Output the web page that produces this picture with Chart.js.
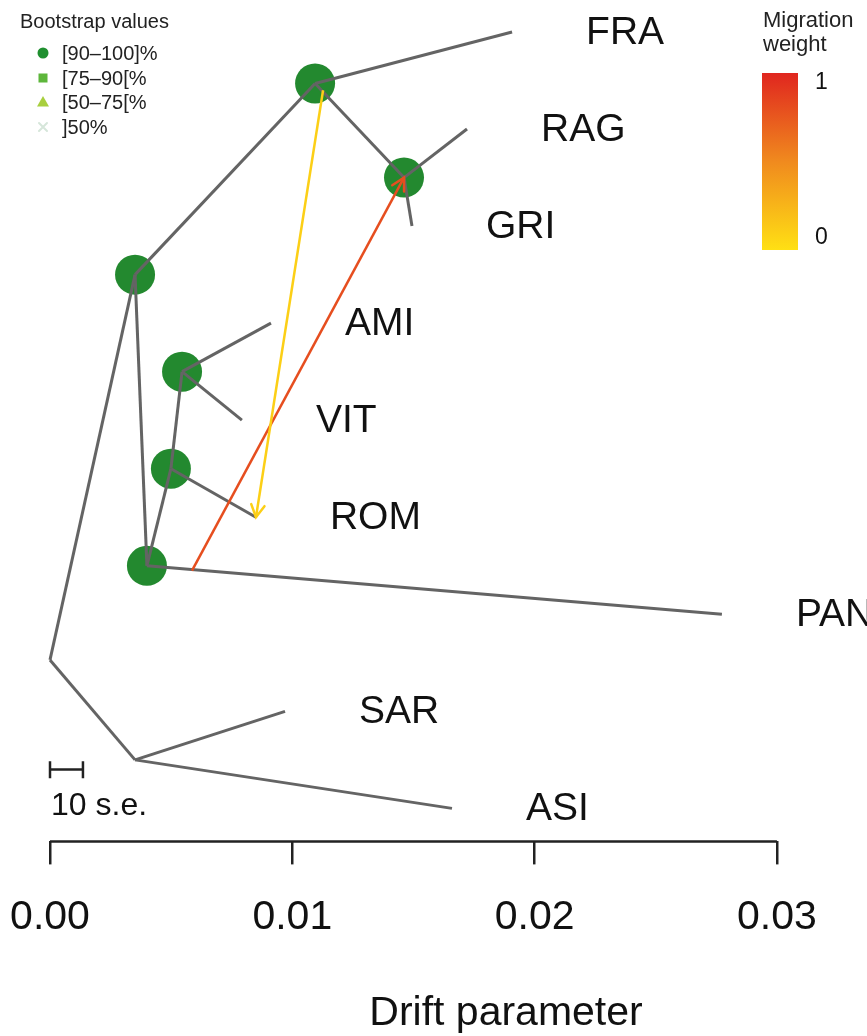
<!DOCTYPE html>
<html>
<head>
<meta charset="utf-8">
<title>Drift tree</title>
<script src="https://cdn.jsdelivr.net/npm/chart.js@4.4.1/dist/chart.umd.min.js"></script>
<style>
  html, body { margin: 0; padding: 0; background: #fff; }
  canvas { display: block; }
</style>
</head>
<body>
<canvas id="tree" width="867" height="1036"></canvas>
<script>
// nodes: drift parameter (x) and vertical row (y, 1 = top tip, 9 = bottom tip)
const nodeNames = ['root', 'SA', 'A', 'N1', 'N2', 'D', 'C', 'B',
                   'FRA', 'RAG', 'GRI', 'AMI', 'VIT', 'ROM', 'PAN', 'SAR', 'ASI'];
const nodeDrift = [0, 0.00351, 0.00351, 0.01094, 0.01461, 0.00400, 0.00499, 0.00545,
                   0.01907, 0.01721, 0.01494, 0.00912, 0.00792, 0.00850, 0.02773, 0.00970, 0.01659];
const nodeRow   = [7.47, 8.5, 3.5, 1.53, 2.5, 6.5, 5.5, 4.5,
                   1, 2, 3, 4, 5, 6, 7, 8, 9];

// tree branches
const edgeFrom = ['root', 'root', 'SA', 'SA', 'A', 'A', 'N1', 'N1', 'N2', 'N2', 'D', 'D', 'C', 'C', 'B', 'B'];
const edgeTo   = ['SA', 'A', 'SAR', 'ASI', 'N1', 'D', 'FRA', 'N2', 'RAG', 'GRI', 'PAN', 'C', 'ROM', 'B', 'AMI', 'VIT'];

const tipLabels = ['FRA', 'RAG', 'GRI', 'AMI', 'VIT', 'ROM', 'PAN', 'SAR', 'ASI'];
const bootstrapNodes = ['N1', 'N2', 'A', 'B', 'C', 'D'];   // all in [90-100]%

// migration edges: start point on a branch -> target node
const migSrcDrift = [0.01127, 0.00586];
const migSrcRow   = [1.60, 6.55];
const migTarget   = ['ROM', 'N2'];
const migWeight   = [0.1, 0.8];

const xTicks = [0, 0.01, 0.02, 0.03];
const scaleBarLen = 0.00136;     // 10 s.e.
const scaleBarRow = 8.6;
const bootLabels = ['[90–100]%', '[75–90[%', '[50–75[%', ']50%'];

const FONT = '"Liberation Sans", Arial, Helvetica, sans-serif';
const PX_PER_UNIT = 24230;
const X_MIN = -50 / PX_PER_UNIT, X_MAX = 817 / PX_PER_UNIT;
const Y_MIN = 1 - 32 / 97, Y_MAX = Y_MIN + 841 / 97;

function pt(name) {
  const i = nodeNames.indexOf(name);
  return { x: nodeDrift[i], y: nodeRow[i] };
}

function weightColor(w) {
  const stops = [[255, 224, 20], [240, 138, 30], [224, 38, 31]];
  const t = Math.max(0, Math.min(1, w)) * 2;
  const i = Math.min(1, Math.floor(t)), f = t - i;
  const c = stops[i].map((v, k) => Math.round(v + (stops[i + 1][k] - v) * f));
  return `rgb(${c[0]},${c[1]},${c[2]})`;
}

const datasets = [];

// bootstrap support circles
datasets.push({
  data: bootstrapNodes.map(pt), pointRadius: 20, pointBackgroundColor: '#23892f',
  pointBorderWidth: 0, showLine: false, order: 3
});

// branches
edgeFrom.forEach((f, i) => {
  datasets.push({
    data: [pt(f), pt(edgeTo[i])], showLine: true, borderColor: '#646464',
    borderWidth: 3, pointRadius: 0, order: 2
  });
});

// migration edges
migTarget.forEach((t, i) => {
  datasets.push({
    data: [{ x: migSrcDrift[i], y: migSrcRow[i] }, pt(t)], showLine: true,
    borderColor: weightColor(migWeight[i]), borderWidth: 2.5, pointRadius: 0, order: 1,
    migration: true
  });
});

// x axis line (0 to 0.03)
datasets.push({
  data: [{ x: xTicks[0], y: Y_MAX }, { x: xTicks[xTicks.length - 1], y: Y_MAX }], showLine: true,
  borderColor: '#222', borderWidth: 2.5, pointRadius: 0, clip: false, order: 1
});

// scale bar with end caps
datasets.push({
  data: [{ x: 0, y: scaleBarRow }, { x: scaleBarLen, y: scaleBarRow }], showLine: true,
  borderColor: '#222', borderWidth: 2.5, pointRadius: 0, order: 1
});
[0, scaleBarLen].forEach(v => {
  datasets.push({
    data: [{ x: v, y: scaleBarRow - 0.085 }, { x: v, y: scaleBarRow + 0.09 }], showLine: true,
    borderColor: '#222', borderWidth: 2.5, pointRadius: 0, order: 1
  });
});

const annotations = {
  id: 'annotations',
  afterDraw(chart) {
    const { ctx, scales: { x, y } } = chart;
    ctx.save();

    // migration arrow heads
    chart.data.datasets.forEach(ds => {
      if (!ds.migration) return;
      const x0 = x.getPixelForValue(ds.data[0].x), y0 = y.getPixelForValue(ds.data[0].y);
      const x1 = x.getPixelForValue(ds.data[1].x), y1 = y.getPixelForValue(ds.data[1].y);
      const a = Math.atan2(y1 - y0, x1 - x0), len = 14, sp = 0.5;
      ctx.strokeStyle = ds.borderColor; ctx.lineWidth = 2.5; ctx.lineCap = 'round';
      ctx.beginPath();
      ctx.moveTo(x1 - len * Math.cos(a - sp), y1 - len * Math.sin(a - sp));
      ctx.lineTo(x1, y1);
      ctx.lineTo(x1 - len * Math.cos(a + sp), y1 - len * Math.sin(a + sp));
      ctx.stroke();
    });

    // tip labels
    ctx.fillStyle = '#111';
    ctx.font = `39px ${FONT}`;
    ctx.textAlign = 'left'; ctx.textBaseline = 'middle';
    tipLabels.forEach(n => {
      const p = pt(n);
      ctx.fillText(n, x.getPixelForValue(p.x) + 74, y.getPixelForValue(p.y) + 1);
    });

    // scale bar label
    ctx.font = `32px ${FONT}`;
    ctx.fillText('10 s.e.', x.getPixelForValue(0) + 1, y.getPixelForValue(scaleBarRow) + 37);

    // axis title
    ctx.font = `41px ${FONT}`;
    ctx.textAlign = 'center'; ctx.textBaseline = 'alphabetic';
    ctx.fillText('Drift parameter', 506, 1025);

    // bootstrap legend
    ctx.textAlign = 'left'; ctx.textBaseline = 'middle';
    ctx.font = `20px ${FONT}`;
    ctx.fillStyle = '#222';
    ctx.fillText('Bootstrap values', 20, 22);
    const mk = 43, rowsY = [53, 78, 102, 127];
    ctx.fillStyle = '#1f8f2f';
    ctx.beginPath(); ctx.arc(mk, rowsY[0], 5.5, 0, Math.PI * 2); ctx.fill();
    ctx.fillStyle = '#5db63b';
    ctx.fillRect(mk - 4.5, rowsY[1] - 4.5, 9, 9);
    ctx.fillStyle = '#a8cf3e';
    ctx.beginPath();
    ctx.moveTo(mk, rowsY[2] - 6); ctx.lineTo(mk + 6, rowsY[2] + 4.5); ctx.lineTo(mk - 6, rowsY[2] + 4.5);
    ctx.closePath(); ctx.fill();
    ctx.strokeStyle = '#d6e6da'; ctx.lineWidth = 2;
    ctx.beginPath();
    ctx.moveTo(mk - 4, rowsY[3] - 4); ctx.lineTo(mk + 4, rowsY[3] + 4);
    ctx.moveTo(mk + 4, rowsY[3] - 4); ctx.lineTo(mk - 4, rowsY[3] + 4);
    ctx.stroke();
    ctx.fillStyle = '#222';
    bootLabels.forEach((t, i) => ctx.fillText(t, 62, rowsY[i] + 1));

    // migration weight colour bar
    ctx.font = `22px ${FONT}`;
    ctx.fillText('Migration', 763, 21);
    ctx.fillText('weight', 763, 45);
    const g = ctx.createLinearGradient(0, 250, 0, 73);
    g.addColorStop(0, weightColor(0));
    g.addColorStop(0.5, weightColor(0.5));
    g.addColorStop(1, weightColor(1));
    ctx.fillStyle = g;
    ctx.fillRect(762, 73, 36, 177);
    ctx.fillStyle = '#111';
    ctx.font = `23px ${FONT}`;
    ctx.fillText('1', 815, 83);
    ctx.fillText('0', 815, 238);

    ctx.restore();
  }
};

new Chart(document.getElementById('tree'), {
  type: 'scatter',
  data: { datasets },
  options: {
    responsive: false,
    animation: false,
    events: [],
    layout: { autoPadding: false, padding: { left: 0, right: 0, top: 0, bottom: 65 } },
    plugins: { legend: { display: false }, tooltip: { enabled: false } },
    scales: {
      x: {
        type: 'linear', min: X_MIN, max: X_MAX,
        afterBuildTicks: s => { s.ticks = xTicks.map(v => ({ value: v })); },
        border: { display: false },
        grid: { drawOnChartArea: false, drawTicks: true, tickLength: 23, color: '#222', lineWidth: 2.5 },
        ticks: {
          padding: 0, color: '#111', maxRotation: 0, autoSkip: false,
          font: { family: FONT, size: 41, lineHeight: 2.6 },
          callback: v => v.toFixed(2)
        }
      },
      y: { type: 'linear', reverse: true, min: Y_MIN, max: Y_MAX, display: false }
    }
  },
  plugins: [annotations]
});
</script>
</body>
</html>
